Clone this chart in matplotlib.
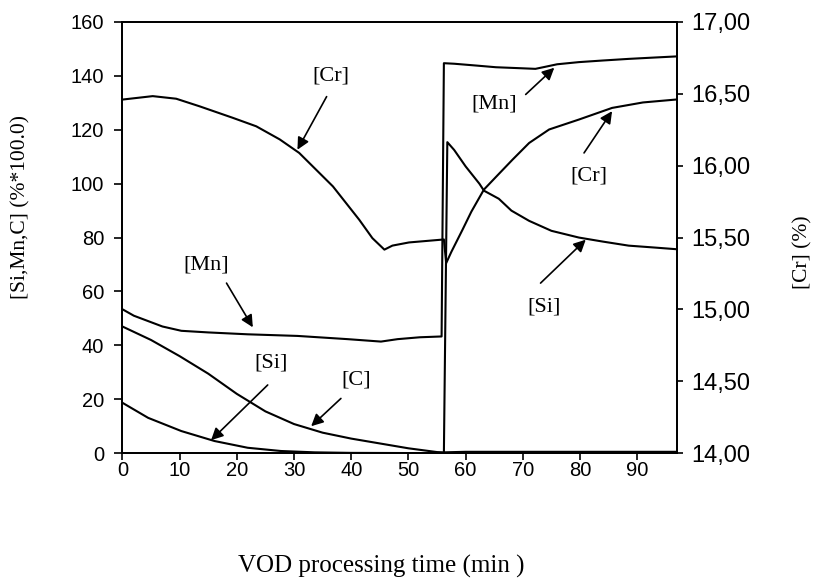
import matplotlib

matplotlib.use("Agg")
import matplotlib.pyplot as plt
from matplotlib.ticker import FuncFormatter, MultipleLocator

# --- data (time in min) ---
t_mn = [0, 2, 4.5, 7, 10.3, 15, 21.9, 30.6, 39.4, 45.2, 48.1, 52, 55.8,
        56.2, 58, 62, 65.3, 70, 72.2, 74, 76, 79.8, 84, 88.5, 93, 96.7]
mn = [53.4, 51, 49, 47, 45.4, 44.8, 44.1, 43.5, 42.3, 41.4, 42.3, 43, 43.3,
      144.7, 144.5, 143.8, 143.2, 142.8, 142.6, 143.4, 144.3, 145.1, 145.7,
      146.3, 146.8, 147.2]

t_c = [0, 5, 10, 15, 20, 25, 30, 35, 40, 45, 50, 55, 56.2, 60, 70, 80, 90, 96.7]
c = [47, 42, 36, 29.5, 22, 15.5, 10.8, 7.6, 5.4, 3.6, 1.8, 0.4, 0.3,
     0.5, 0.5, 0.5, 0.5, 0.5]

t_si = [0, 4.5, 10.3, 16.1, 21.9, 27.7, 33.6, 40, 56.2,
        56.8, 58, 60, 62.4, 63.2, 65.8, 68, 71.1, 75, 79.8, 84, 88.5, 93, 96.7]
si = [18.7, 13.1, 8.2, 4.5, 2.0, 0.8, 0.3, 0.1, 0.0,
      115.4, 112.5, 106.4, 100, 97.4, 94.4, 90, 86.2, 82.5, 80, 78.5, 77, 76.3, 75.7]

t_cr = [0, 5.3, 9.4, 13.5, 19.3, 23.4, 27.5, 30.9, 36.8, 41.4, 43.7, 45.8,
        47.2, 50.1, 55.7, 56.2, 56.6, 57.5, 59.4, 61, 63.2, 65.5, 68.2, 71.1,
        74.6, 79.8, 85.6, 91, 96.7]
cr = [16.46, 16.484, 16.466, 16.413, 16.333, 16.274, 16.183, 16.089, 15.856,
      15.624, 15.496, 15.416, 15.444, 15.466, 15.485, 15.487, 15.322, 15.40,
      15.55, 15.68, 15.834, 15.93, 16.042, 16.158, 16.252, 16.321, 16.402,
      16.44, 16.46]

sans = "Liberation Sans"
serif = "Liberation Serif"

fig = plt.figure(figsize=(8.16, 5.78), dpi=100)
ax = fig.add_axes([0.150, 0.216, 0.680, 0.746])
ax2 = ax.twinx()

lw = 1.5
ax.plot(t_mn, mn, color="black", lw=lw)
ax.plot(t_c, c, color="black", lw=lw)
ax.plot(t_si, si, color="black", lw=lw)
ax2.plot(t_cr, cr, color="black", lw=lw)

ax.set_xlim(0, 97)
ax.set_ylim(0, 160)
ax2.set_ylim(14, 17)
ax.set_xticks(range(0, 100, 10))
ax.yaxis.set_major_locator(MultipleLocator(20))
ax2.yaxis.set_major_locator(MultipleLocator(0.5))
ax2.yaxis.set_major_formatter(FuncFormatter(lambda v, p: f"{v:.2f}".replace(".", ",")))

for a in (ax, ax2):
    for s in a.spines.values():
        s.set_linewidth(1.3)
ax.tick_params(axis="x", direction="out", length=5, width=1.2, labelsize=14.5, pad=1)
ax.tick_params(axis="y", direction="out", length=6, width=1.2, labelsize=14.5, pad=7)
ax2.tick_params(axis="y", direction="out", length=4, width=1.2, labelsize=17, pad=6)
for lab in ax.get_xticklabels() + ax.get_yticklabels() + ax2.get_yticklabels():
    lab.set_fontfamily(sans)

ax.set_xlabel("VOD processing time (min )", fontfamily=serif, fontsize=18)
ax.xaxis.label.set_va("center")
ax.xaxis.set_label_coords(0.466, -0.262)
ax.set_ylabel("[Si,Mn,C] (%*100.0)", fontfamily=serif, fontsize=15.5)
ax.yaxis.set_label_coords(-0.165, 0.571)
ax2.set_ylabel("[Cr] (%)", fontfamily=serif, fontsize=15.5)
ax2.yaxis.set_label_coords(1.209, 0.466)

# labels with arrows (text pos, arrow tail, arrow head)
notes = [
    ("[Cr]", (36.5, 139.8), (35.7, 132.3), (30.6, 112.6)),
    ("[Mn]", (65.0, 129.4), (70.5, 133.1), (75.5, 143.0)),
    ("[Cr]", (81.6, 102.7), (80.7, 111.4), (85.6, 126.9)),
    ("[Si]", (73.7, 54.4), (73.1, 63.1), (81.0, 79.2)),
    ("[Mn]", (14.7, 69.9), (18.2, 63.1), (22.8, 46.7)),
    ("[Si]", (26.0, 33.3), (25.4, 25.3), (15.5, 4.8)),
    ("[C]", (40.8, 27.1), (38.2, 20.3), (33.0, 10.0)),
]
for txt, pos, tail, head in notes:
    ax.text(pos[0], pos[1], txt, fontfamily=serif, fontsize=16,
            ha="center", va="center")
    ax.annotate("", xy=head, xytext=tail,
                arrowprops=dict(arrowstyle="-|>", color="black", lw=1.2,
                                mutation_scale=18, shrinkA=0, shrinkB=0))

fig.savefig("out.png", dpi=100)
